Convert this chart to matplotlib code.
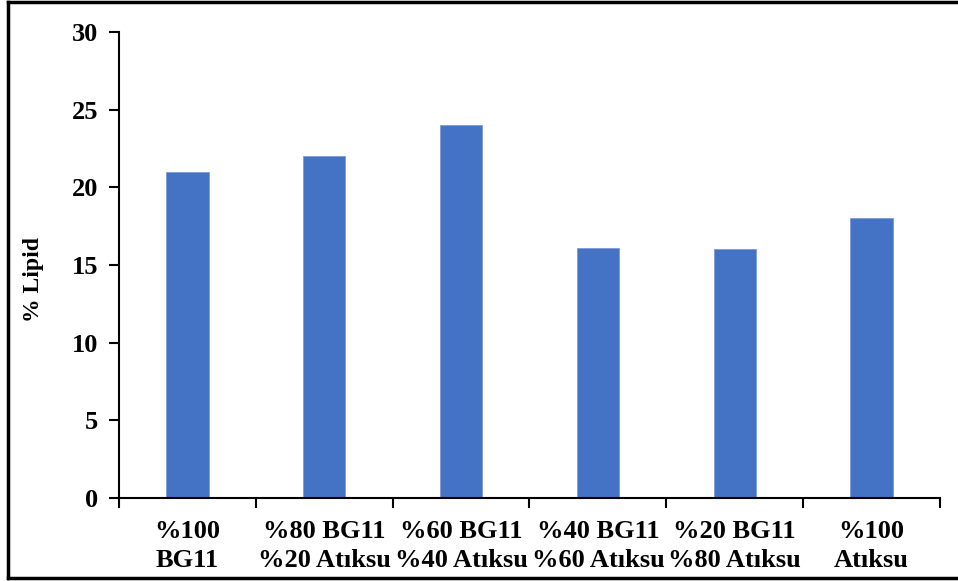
import matplotlib
matplotlib.use("Agg")
import matplotlib.pyplot as plt
from matplotlib.lines import Line2D
import numpy as np

categories = ["%100\nBG11", "%80 BG11\n%20 Atıksu", "%60 BG11\n%40 Atıksu",
              "%40 BG11\n%60 Atıksu", "%20 BG11\n%80 Atıksu", "%100\nAtıksu"]
lipid = [21, 22, 24, 16.1, 16, 18]
yticks = [0, 5, 10, 15, 20, 25, 30]

plt.rcParams['font.family'] = ['Liberation Serif', 'DejaVu Serif']
plt.rcParams['font.weight'] = 'bold'

W, H = 958, 581
fig = plt.figure(figsize=(W/100, H/100), dpi=100)
ax = fig.add_axes([119/W, (H-498)/H, (940-119)/W, (498-32)/H])

x = np.arange(len(categories))
ax.bar(x, lipid, width=0.31, color='#4472C4', edgecolor='#7E9BD6', linewidth=0.6, zorder=2)

ax.set_xlim(-0.5, len(categories)-0.5)
ax.set_ylim(0, 30)
ax.set_yticks(yticks)
ax.set_yticklabels([str(v) for v in yticks], fontsize=19, fontweight='bold')

ax.set_xticks(x)
ax.set_xticklabels(categories, fontsize=19, fontweight='bold', linespacing=1.3)
ax.set_xticks(np.arange(-0.5, len(categories)), minor=True)
ax.tick_params(axis='x', which='major', length=0, pad=16)
ax.tick_params(axis='x', which='minor', length=7, width=1.5, direction='out')
ax.tick_params(axis='y', which='major', length=7, width=1.5, direction='out', pad=8)

for s in ['top', 'right']:
    ax.spines[s].set_visible(False)
for s in ['left', 'bottom']:
    ax.spines[s].set_linewidth(1.5)

fig.text(33/W, 1-280/H, "% Lipid", rotation=90, ha='center', va='center',
         fontsize=17, fontweight='bold')

# figure border
lw = 2.5
fig.add_artist(Line2D([8/W, 8/W], [1-2/H, 1-578/H], color='black', lw=lw, transform=fig.transFigure))
fig.add_artist(Line2D([8/W, 1], [1-2/H, 1-2/H], color='black', lw=lw, transform=fig.transFigure))
fig.add_artist(Line2D([8/W, 1], [1-578/H, 1-578/H], color='black', lw=lw, transform=fig.transFigure))

fig.savefig("out.png", dpi=100)
